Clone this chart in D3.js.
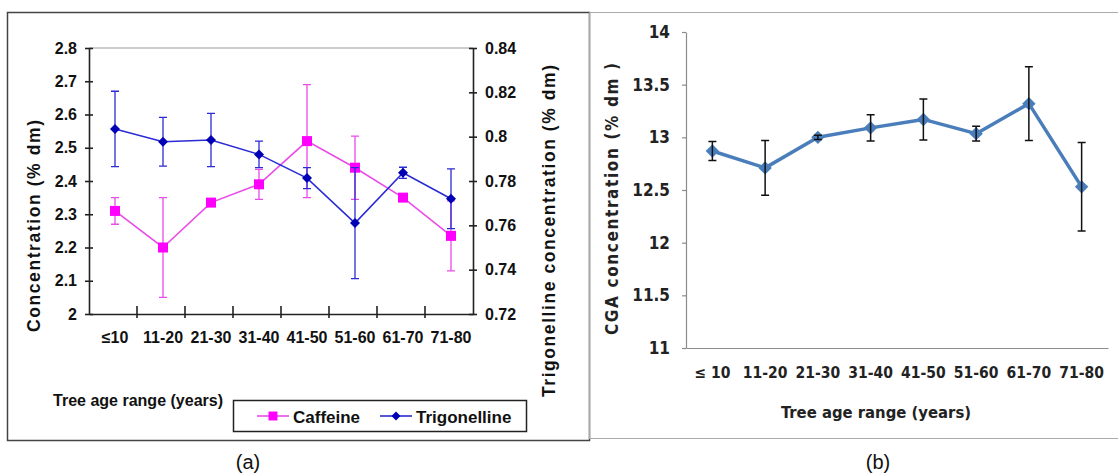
<!DOCTYPE html>
<html>
<head>
<meta charset="utf-8">
<script src="https://cdn.jsdelivr.net/npm/d3@7"></script>
<style>
  body { margin: 0; background: #fff; }
  svg { display: block; }
</style>
</head>
<body>
<div id="chart"></div>
<script>
// tree age ranges, shared by both panels
const ages = ["≤10", "11-20", "21-30", "31-40", "41-50", "51-60", "61-70", "71-80"]
const agesB = ["≤ 10", "11-20", "21-30", "31-40", "41-50", "51-60", "61-70", "71-80"]

// panel (a): caffeine on left axis, trigonelline on right axis (% dm)
const caffeine = [2.31, 2.20, 2.335, 2.39, 2.52, 2.44, 2.35, 2.235]
const caffeineErr = [0.04, 0.15, 0.01, 0.045, 0.17, 0.095, 0.01, 0.105]
const trigonelline = [0.8035, 0.7977, 0.7985, 0.792, 0.7813, 0.761, 0.7837, 0.772]
const trigonellineErr = [0.017, 0.011, 0.012, 0.006, 0.0047, 0.025, 0.0025, 0.0135]

// panel (b): chlorogenic acid
const cga = [12.87, 12.71, 13.0, 13.09, 13.17, 13.035, 13.32, 12.53]
const cgaErr = [0.09, 0.26, 0.02, 0.125, 0.195, 0.07, 0.35, 0.42]

const leftTicks = [2, 2.1, 2.2, 2.3, 2.4, 2.5, 2.6, 2.7, 2.8]
const rightTicks = [0.72, 0.74, 0.76, 0.78, 0.8, 0.82, 0.84]
const cgaTicks = [11, 11.5, 12, 12.5, 13, 13.5, 14]

const width = 1118
const height = 474

const svg = d3.select("#chart")
  .append("svg")
    .attr("width", width)
    .attr("height", height)

const fontA = "'Liberation Sans', Arial, sans-serif"
const fontB = "'DejaVu Sans Condensed', 'DejaVu Sans', sans-serif"

// ---------------- panel (a) ----------------
svg.append("rect")
  .attr("x", 7.5).attr("y", 12.5)
  .attr("width", 582).attr("height", 428)
  .attr("fill", "none").attr("stroke", "#444").attr("stroke-width", 1.5)

const xA = d3.scaleBand().domain(ages).range([89, 473])
const yL = d3.scaleLinear().domain([2, 2.8]).range([314, 48])
const yR = d3.scaleLinear().domain([0.72, 0.84]).range([314, 48])

// top border of plot area
svg.append("line")
  .attr("x1", 89).attr("x2", 473).attr("y1", 48).attr("y2", 48)
  .attr("stroke", "#999").attr("stroke-width", 1)

const axisStyleA = g => {
  g.selectAll(".domain").attr("stroke", "#222").attr("stroke-width", 1.6)
  g.selectAll(".tick line").attr("stroke", "#222").attr("stroke-width", 1.6)
  g.selectAll("text").attr("font-family", fontA).attr("font-weight", "bold")
    .attr("font-size", 16).attr("fill", "#111")
}

svg.append("g")
  .attr("transform", "translate(89,0)")
  .call(d3.axisLeft(yL).tickValues(leftTicks).tickSize(4).tickPadding(8)
    .tickFormat(d3.format("")).tickSizeOuter(0))
  .call(g => g.selectAll(".tick line").attr("x2", 4).attr("x1", -4))
  .call(axisStyleA)

svg.append("g")
  .attr("transform", "translate(473,0)")
  .call(d3.axisRight(yR).tickValues(rightTicks).tickSize(4).tickPadding(8)
    .tickFormat(d3.format("")).tickSizeOuter(0))
  .call(g => g.selectAll(".tick line").attr("x2", 4).attr("x1", -4))
  .call(axisStyleA)

const xAxisA = d3.axisBottom(xA).tickSizeOuter(0).tickSize(0).tickPadding(18)
svg.append("g")
  .attr("transform", "translate(0,314)")
  .call(xAxisA)
  .call(g => g.selectAll(".tick text").attr("dx", 2))
  .call(axisStyleA)

// tick marks on band edges
svg.append("g")
  .selectAll("line")
  .data(ages.slice(1))
  .join("line")
    .attr("x1", d => xA(d)).attr("x2", d => xA(d))
    .attr("y1", 306).attr("y2", 318)
    .attr("stroke", "#222").attr("stroke-width", 1.6)

// axis titles
svg.append("text")
  .attr("transform", "translate(40,226) rotate(-90)")
  .attr("text-anchor", "middle")
  .attr("font-family", fontA).attr("font-weight", "bold").attr("font-size", 17.5)
  .attr("fill", "#111")
  .attr("textLength", 212).attr("lengthAdjust", "spacing")
  .text("Concentration (% dm)")

svg.append("text")
  .attr("transform", "translate(555,231) rotate(-90)")
  .attr("text-anchor", "middle")
  .attr("font-family", fontA).attr("font-weight", "bold").attr("font-size", 17.5)
  .attr("fill", "#111")
  .attr("textLength", 332).attr("lengthAdjust", "spacing")
  .text("Trigonelline concentration (% dm)")

svg.append("text")
  .attr("x", 53).attr("y", 406)
  .attr("font-family", fontA).attr("font-weight", "bold").attr("font-size", 17)
  .attr("fill", "#111")
  .attr("textLength", 170).attr("lengthAdjust", "spacingAndGlyphs")
  .text("Tree age range (years)")

const cx = d => xA(d) + xA.bandwidth() / 2 + 2

// rotated square, as in the spreadsheet markers
const rhombus = s => d3.symbol().type(d3.symbolSquare).size(s)()

function drawSeries(values, errs, y, lineColor, markerColor, marker, rot) {
  const g = svg.append("g")
  g.selectAll(".err")
    .data(ages)
    .join("path")
      .attr("fill", "none")
      .attr("stroke", lineColor)
      .attr("stroke-width", 1.3)
      .attr("d", (d, i) => {
        const x = cx(d)
        const t = y(values[i] + errs[i]), b = y(values[i] - errs[i])
        return `M${x},${t}V${b}M${x - 4},${t}H${x + 4}M${x - 4},${b}H${x + 4}`
      })
  g.append("path")
    .datum(values)
    .attr("fill", "none")
    .attr("stroke", lineColor)
    .attr("stroke-width", 1.6)
    .attr("d", d3.line().x((d, i) => cx(ages[i])).y(d => y(d)))
  g.selectAll(".mk")
    .data(values)
    .join("path")
      .attr("transform", (d, i) => `translate(${cx(ages[i])},${y(d)}) rotate(${rot})`)
      .attr("d", marker)
      .attr("fill", markerColor)
}

drawSeries(caffeine, caffeineErr, yL, "#ea4ce8", "#ff00ff", rhombus(100), 0)
drawSeries(trigonelline, trigonellineErr, yR, "#2b2bd6", "#0000b4", rhombus(50), 45)

// legend
svg.append("rect")
  .attr("x", 233.5).attr("y", 400.5).attr("width", 293).attr("height", 31)
  .attr("fill", "#fff").attr("stroke", "#222").attr("stroke-width", 1.5)

const legend = [
  { name: "Caffeine", line: "#ea4ce8", fill: "#ff00ff", x: 257, size: 80, rot: 0 },
  { name: "Trigonelline", line: "#2b2bd6", fill: "#0000b4", x: 380, size: 40, rot: 45 }
]
const lg = svg.append("g").selectAll("g").data(legend).join("g")
  .attr("transform", d => `translate(${d.x},416)`)
lg.append("line").attr("x1", 0).attr("x2", 32).attr("stroke", d => d.line).attr("stroke-width", 1.6)
lg.append("path").attr("transform", d => `translate(16,0) rotate(${d.rot})`)
  .attr("d", d => rhombus(d.size)).attr("fill", d => d.fill)
lg.append("text").attr("x", 36).attr("y", 6.5)
  .attr("font-family", fontA).attr("font-weight", "bold").attr("font-size", 17)
  .attr("fill", "#111")
  .text(d => d.name)

svg.append("text")
  .attr("x", 248).attr("y", 469).attr("text-anchor", "middle")
  .attr("font-family", fontA).attr("font-size", 20).attr("fill", "#111")
  .text("(a)")

// ---------------- panel (b) ----------------
svg.append("path")
  .attr("d", "M589.5,12.5H1118M589.5,12.5V438.5H1118")
  .attr("fill", "none").attr("stroke", "#aaa").attr("stroke-width", 1.2)

const xB = d3.scaleBand().domain(agesB).range([686, 1108])
const yB = d3.scaleLinear().domain([11, 14]).range([348, 32])

svg.append("g")
  .attr("transform", "translate(686,0)")
  .call(d3.axisLeft(yB).tickValues(cgaTicks).tickSize(4).tickPadding(12)
    .tickFormat(d3.format("")).tickSizeOuter(0))
  .call(g => g.selectAll(".domain, .tick line").attr("stroke", "#8c8c8c").attr("stroke-width", 1.2))
  .call(g => g.selectAll("text").attr("font-family", fontB).attr("font-weight", "bold")
    .attr("font-size", 17).attr("fill", "#222"))

svg.append("g")
  .attr("transform", "translate(0,348)")
  .call(d3.axisBottom(xB).tickSize(0).tickPadding(19).tickSizeOuter(0))
  .call(g => g.selectAll(".domain").attr("stroke", "#8c8c8c").attr("stroke-width", 1.2))
  .call(g => g.selectAll("text").attr("font-family", fontB).attr("font-weight", "bold")
    .attr("font-size", 15.5).attr("fill", "#222"))

svg.append("text")
  .attr("transform", "translate(618,199) rotate(-90)")
  .attr("text-anchor", "middle")
  .attr("font-family", fontB).attr("font-weight", "bold").attr("font-size", 17)
  .attr("fill", "#222")
  .attr("textLength", 272).attr("lengthAdjust", "spacing")
  .text("CGA concentration (% dm )")

svg.append("text")
  .attr("x", 876).attr("y", 418).attr("text-anchor", "middle")
  .attr("font-family", fontB).attr("font-weight", "bold").attr("font-size", 16.5)
  .attr("fill", "#222")
  .text("Tree age range (years)")

const cxB = d => xB(d) + xB.bandwidth() / 2

svg.append("path")
  .datum(cga)
  .attr("fill", "none")
  .attr("stroke", "#4a7ebb")
  .attr("stroke-width", 3.5)
  .attr("stroke-linejoin", "round")
  .attr("d", d3.line().x((d, i) => cxB(agesB[i])).y(d => yB(d)))

svg.append("g")
  .selectAll("path")
  .data(cga)
  .join("path")
    .attr("transform", (d, i) => `translate(${cxB(agesB[i])},${yB(d)}) rotate(45)`)
    .attr("d", rhombus(90))
    .attr("fill", "#4a7ebb")

svg.append("g")
  .selectAll("path")
  .data(agesB)
  .join("path")
    .attr("fill", "none")
    .attr("stroke", "#111")
    .attr("stroke-width", 1.5)
    .attr("d", (d, i) => {
      const x = cxB(d)
      const t = yB(cga[i] + cgaErr[i]), b = yB(cga[i] - cgaErr[i])
      return `M${x},${t}V${b}M${x - 4},${t}H${x + 4}M${x - 4},${b}H${x + 4}`
    })

svg.append("text")
  .attr("x", 878).attr("y", 469).attr("text-anchor", "middle")
  .attr("font-family", fontA).attr("font-size", 20).attr("fill", "#111")
  .text("(b)")
</script>
</body>
</html>
